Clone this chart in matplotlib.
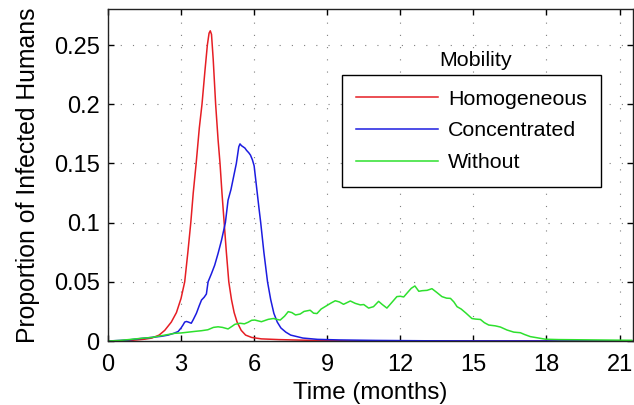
import matplotlib
matplotlib.use("Agg")
import matplotlib.pyplot as plt

# Epidemic curves: proportion of infected humans over time, by mobility model
months_homog = [0, 0.5, 1.0, 1.5, 1.8, 2.1, 2.33, 2.6, 2.81, 3.0, 3.15, 3.28, 3.4, 3.5,
                3.62, 3.75, 3.86, 3.98, 4.08, 4.15, 4.2, 4.25, 4.32, 4.42, 4.52, 4.6,
                4.68, 4.77, 4.86, 4.96, 5.07, 5.18, 5.3, 5.47, 5.65, 5.9, 6.3, 7.0,
                7.8, 9.0, 10.0, 21.5]
infected_homog = [0, 0.0002, 0.0006, 0.0015, 0.0025, 0.005, 0.009, 0.016, 0.024, 0.036,
                  0.05, 0.075, 0.1, 0.125, 0.15, 0.18, 0.2, 0.228, 0.25, 0.26, 0.262,
                  0.259, 0.238, 0.2, 0.17, 0.15, 0.125, 0.1, 0.075, 0.05, 0.035, 0.024,
                  0.016, 0.009, 0.005, 0.003, 0.0018, 0.0012, 0.0008, 0.0003, 0.0001, 0]

months_conc = [0, 0.8, 1.3, 1.77, 2.2, 2.47, 2.7, 2.88, 3.0, 3.08, 3.15, 3.22, 3.3, 3.42,
               3.5, 3.63, 3.75, 3.84, 3.95, 4.04, 4.11, 4.25, 4.38, 4.52, 4.66, 4.82,
               4.93, 5.05, 5.14, 5.27, 5.37, 5.42, 5.48, 5.55, 5.62, 5.69, 5.78, 5.85,
               5.93, 6.0, 6.1, 6.2, 6.27, 6.4, 6.55, 6.68, 6.81, 6.95, 7.1, 7.3, 7.5,
               8.0, 8.6, 9.5, 11.0, 13.0, 15.0, 21.5]
infected_conc = [0, 0.0008, 0.002, 0.003, 0.004, 0.005, 0.0065, 0.008, 0.011, 0.0135,
                 0.016, 0.0165, 0.016, 0.015, 0.018, 0.0234, 0.03, 0.0346, 0.037, 0.0397,
                 0.05, 0.057, 0.064, 0.074, 0.085, 0.1, 0.119, 0.128, 0.137, 0.15, 0.164,
                 0.1665, 0.165, 0.164, 0.163, 0.161, 0.159, 0.157, 0.153, 0.148, 0.13,
                 0.112, 0.1, 0.075, 0.05, 0.035, 0.0234, 0.016, 0.011, 0.0075, 0.005,
                 0.0025, 0.0014, 0.0009, 0.0005, 0.0002, 0.0001, 0]

months_without = [0, 0.5, 1.0, 1.37, 1.8, 2.2, 2.74, 3.0, 3.3, 3.6, 3.84, 4.1, 4.33, 4.52,
                  4.7, 4.93, 5.1, 5.21, 5.42, 5.6, 5.75, 5.9, 6.03, 6.3, 6.58, 6.79,
                  6.95, 7.07, 7.25, 7.4, 7.55, 7.7, 7.89, 8.05, 8.3, 8.44, 8.58, 8.75,
                  8.99, 9.15, 9.33, 9.5, 9.67, 9.82, 9.95, 10.15, 10.36, 10.5, 10.7,
                  10.9, 11.11, 11.25, 11.45, 11.65, 11.86, 12.0, 12.14, 12.3, 12.45,
                  12.6, 12.76, 12.9, 13.1, 13.3, 13.5, 13.71, 13.9, 14.06, 14.2, 14.33,
                  14.5, 14.7, 14.94, 15.1, 15.29, 15.45, 15.63, 15.9, 16.11, 16.38,
                  16.66, 16.93, 17.1, 17.34, 17.6, 17.96, 18.5, 19.5, 20.5, 21.5]
infected_without = [0, 0.0005, 0.0015, 0.0023, 0.003, 0.0045, 0.0065, 0.0068, 0.0075,
                    0.0082, 0.0087, 0.0095, 0.0115, 0.012, 0.0115, 0.0102, 0.0125, 0.0141,
                    0.015, 0.0145, 0.0158, 0.0175, 0.0177, 0.0163, 0.0183, 0.019, 0.0182,
                    0.0177, 0.021, 0.0248, 0.024, 0.022, 0.0228, 0.025, 0.026, 0.0235,
                    0.0232, 0.027, 0.030, 0.032, 0.034, 0.033, 0.031, 0.0325, 0.0338,
                    0.0318, 0.0305, 0.0308, 0.0278, 0.029, 0.0335, 0.031, 0.0278, 0.0325,
                    0.0375, 0.0378, 0.0372, 0.041, 0.0445, 0.0465, 0.042, 0.0425, 0.0428,
                    0.0442, 0.041, 0.0375, 0.0362, 0.036, 0.033, 0.029, 0.027, 0.0235,
                    0.019, 0.0185, 0.0182, 0.0155, 0.0135, 0.0128, 0.0118, 0.0093,
                    0.0075, 0.007, 0.0055, 0.0037, 0.0028, 0.0015, 0.0012, 0.001, 0.0008,
                    0.0006]

series_labels = ["Homogeneous", "Concentrated", "Without"]
x_ticks = [0, 3, 6, 9, 12, 15, 18, 21]
y_ticks = [0, 0.05, 0.1, 0.15, 0.2, 0.25]
y_tick_labels = ["0", "0.05", "0.1", "0.15", "0.2", "0.25"]

plt.rcParams["font.family"] = ["Liberation Sans", "DejaVu Sans"]

fig = plt.figure(figsize=(6.34, 4.05), dpi=100)
ax = fig.add_axes([0.1703, 0.158, 0.828, 0.82])

ax.plot(months_homog, infected_homog, color="#e61e24", lw=1.1, label=series_labels[0])
ax.plot(months_conc, infected_conc, color="#1c1ce0", lw=1.1, label=series_labels[1])
ax.plot(months_without, infected_without, color="#2ee02e", lw=1.1, label=series_labels[2])

ax.set_xlim(0, 21.55)
ax.set_ylim(0, 0.2805)
ax.set_xticks(x_ticks)
ax.set_yticks(y_ticks)
ax.set_yticklabels(y_tick_labels)

ax.tick_params(direction="in", length=4, width=1, top=True, right=True,
               labelsize=17, color="black")
ax.tick_params(axis="x", pad=9)
ax.tick_params(axis="y", pad=6)
ax.grid(True, color="#7f7f7f", linestyle=(0, (1, 10)), linewidth=0.8)
for sp in ax.spines.values():
    sp.set_linewidth(1.0)
    sp.set_color("#222222")

ax.set_xlabel("Time (months)", fontsize=17.4, labelpad=5)
ax.set_ylabel("Proportion of Infected Humans", fontsize=17.8, labelpad=10)

leg = ax.legend(loc="upper left", bbox_to_anchor=(0.4457, 0.801), borderaxespad=0,
                fontsize=15.4, handlelength=3.8, handletextpad=0.47, labelspacing=0.6,
                borderpad=0.68, fancybox=False, framealpha=1, edgecolor="black")
leg.get_frame().set_linewidth(1.0)
ax.text(0.701, 0.846, "Mobility", transform=ax.transAxes, fontsize=15.4,
        ha="center", va="center")

fig.savefig("out.png", dpi=100)
